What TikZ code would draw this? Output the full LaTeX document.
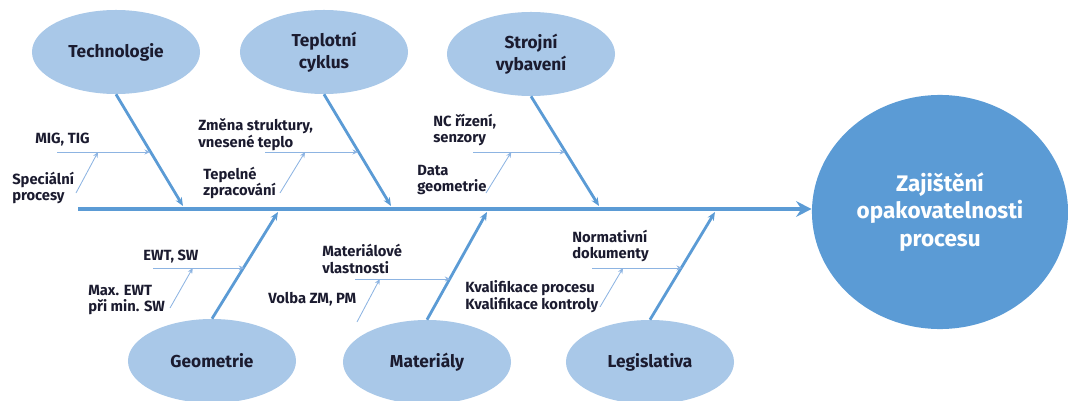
\documentclass[tikz,border=0pt]{standalone}
\usepackage{fontspec}
\setmainfont{Fira Sans}
\usepackage{xcolor}
\definecolor{bonecol}{HTML}{5B9BD5}
\definecolor{causecol}{HTML}{A9C8E8}
\definecolor{twigcol}{HTML}{8DB4E2}
\definecolor{ink}{HTML}{1B1B2F}
\usetikzlibrary{arrows.meta, positioning, shapes.geometric}

\tikzset{
  causebox/.style={ellipse, fill=causecol, minimum width=4.2cm, minimum height=2.1cm,
    inner sep=0pt, align=center, text=ink, font=\bfseries\fontsize{12.3}{15.5}\selectfont},
  spine/.style={line width=3.5pt, color=bonecol, -{Stealth[length=11pt, width=11pt]}},
  bone/.style={line width=2pt, color=bonecol, -{Stealth[length=6pt, width=5pt]}},
  twig/.style={line width=0.6pt, color=twigcol, -{Stealth[length=4pt, width=3.5pt]}},
  lbl/.style={anchor=west, inner sep=0pt, align=left, text=ink,
    font=\bfseries\fontsize{10.5}{12}\selectfont}
}

\begin{document}
\begin{tikzpicture}[x=0.025cm, y=-0.025cm]
  \useasboundingbox (0,0) rectangle (1068,401);

  % --- Effect and spine ---
  \node[ellipse, fill=bonecol, minimum width=6.4cm, minimum height=5.85cm, inner sep=0pt,
    align=center, text=white, font=\bfseries\fontsize{16}{19.5}\selectfont]
    (goal) at (940,212) {Zajištění\\opakovatelnosti\\procesu};
  \coordinate (tail) at (78,209);
  \draw[spine] (tail) -- (tail -| goal.west);

  % --- Causes ---
  \node[causebox] (tech)  at (116,52)  {Technologie};
  \node[causebox] (tepl)  at (324,52)  {Teplotní\\cyklus};
  \node[causebox] (stroj) at (531,54)  {Strojní\\vybavení};
  \node[causebox] (geom)  at (212,361) {Geometrie};
  \node[causebox] (mat)   at (427,362) {Materiály};
  \node[causebox] (leg)   at (650,362) {Legislativa};

  \coordinate (b1) at (183,206);
  \coordinate (b2) at (391,206);
  \coordinate (b3) at (599,206);
  \coordinate (b4) at (278,212);
  \coordinate (b5) at (487,212);
  \coordinate (b6) at (715,212);

  \draw[bone] (tech.south)  -- (b1) coordinate[pos=0.51] (j1);
  \draw[bone] (tepl.south)  -- (b2) coordinate[pos=0.51] (j2);
  \draw[bone] (stroj.south) -- (b3) coordinate[pos=0.505] (j3);
  \draw[bone] (geom.north)  -- (b4) coordinate[pos=0.49] (j4);
  \draw[bone] (mat.north)   -- (b5) coordinate[pos=0.39] (j5);
  \draw[bone] (leg.north)   -- (b6) coordinate[pos=0.495] (j6);

  % --- Technologie ---
  \node[lbl] (migtig) at (35,140) {MIG, TIG};
  \node[lbl] (spec) at (12,188) {Speciální\\procesy};
  \coordinate (h1) at (57,152);
  \coordinate (d1) at (76,193);
  \draw[twig] (h1) -- (h1 -| j1) coordinate[pos=0.44] (k1);
  \draw[twig] (d1) -- (k1);

  % --- Teplotni cyklus ---
  \node[lbl] (zmena) at (198,135) {Změna struktury,\\vnesené teplo};
  \node[lbl] (tepel) at (203,183) {Tepelné\\zpracování};
  \coordinate (h2) at (265,152);
  \coordinate (d2) at (280,193);
  \draw[twig] (h2) -- (h2 -| j2) coordinate[pos=0.43] (k2);
  \draw[twig] (d2) -- (k2);

  % --- Strojni vybaveni ---
  \node[lbl] (ncriz) at (433,130) {NC řízení,\\senzory};
  \node[lbl] (data) at (417,180) {Data\\geometrie};
  \coordinate (h3) at (473,152);
  \coordinate (d3) at (486,193);
  \draw[twig] (h3) -- (h3 -| j3) coordinate[pos=0.415] (k3);
  \draw[twig] (d3) -- (k3);

  % --- Geometrie ---
  \node[lbl] (ewt) at (143,257) {EWT, SW};
  \node[lbl] (maxewt) at (88,300) {Max. EWT\\při min. SW};
  \coordinate (h4) at (153,268);
  \coordinate (d4) at (170,308);
  \draw[twig] (h4) -- (h4 -| j4) coordinate[pos=0.435] (k4);
  \draw[twig] (d4) -- (k4);

  % --- Materialy ---
  \node[lbl] (matvl) at (322,259) {Materiálové\\vlastnosti};
  \node[lbl] (volba) at (268,299) {Volba ZM, PM};
  \coordinate (h5) at (355,279);
  \coordinate (d5) at (357,322);
  \draw[twig] (h5) -- (h5 -| j5) coordinate[pos=0.26] (k5);
  \draw[twig] (d5) -- (k5);

  % --- Legislativa ---
  \node[lbl] (norm) at (572,246) {Normativní\\dokumenty};
  \node[lbl] (kval) at (465,297) {Kvalifikace procesu\\Kvalifikace kontroly};
  \coordinate (h6) at (592,268);
  \coordinate (d6) at (600,307);
  \draw[twig] (h6) -- (h6 -| j6) coordinate[pos=0.344] (k6);
  \draw[twig] (d6) -- (k6);
\end{tikzpicture}
\end{document}
